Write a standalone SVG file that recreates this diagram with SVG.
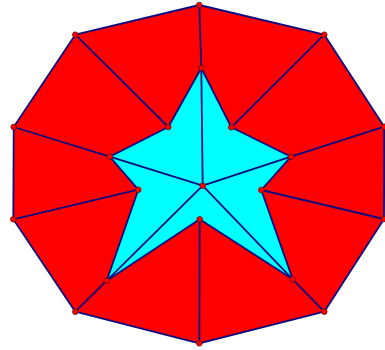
<svg xmlns="http://www.w3.org/2000/svg" width="385" height="350" viewBox="0 0 385 350">
<style>
.edge{stroke:#0c0c80;stroke-width:1.8;fill:none;stroke-linejoin:round}
.pt{fill:#ff0000;stroke:#5a1010;stroke-width:0.8}
</style>
<rect width="385" height="350" fill="#ffffff"/>
<g id="regions">
<polygon points="199.3,5 324.3,34.7 384.3,126.7 384,219 324.3,311.7 199.3,343.3 75.3,311.7 13.3,219.3 13.7,127 75.3,34.7" fill="#ff0000"/>
<polygon points="201.3,68 231.3,127.3 291,156.7 261.3,190 292.7,279.3 199.7,219.3 106.7,280.7 138.3,189.7 109.7,156.7 168.3,127" fill="#00ffff"/>
</g>
<g id="connectors" class="edge">
<polygon points="199.3,5 324.3,34.7 384.3,126.7 384,219 324.3,311.7 199.3,343.3 75.3,311.7 13.3,219.3 13.7,127 75.3,34.7"/>
<polygon points="201.3,68 231.3,127.3 291,156.7 261.3,190 292.7,279.3 199.7,219.3 106.7,280.7 138.3,189.7 109.7,156.7 168.3,127"/>
<line x1="199.3" y1="5" x2="201.3" y2="68"/>
<line x1="324.3" y1="34.7" x2="231.3" y2="127.3"/>
<line x1="384.3" y1="126.7" x2="291" y2="156.7"/>
<line x1="384" y1="219" x2="261.3" y2="190"/>
<line x1="324.3" y1="311.7" x2="292.7" y2="279.3"/>
<line x1="199.3" y1="343.3" x2="199.7" y2="219.3"/>
<line x1="75.3" y1="311.7" x2="106.7" y2="280.7"/>
<line x1="13.3" y1="219.3" x2="138.3" y2="189.7"/>
<line x1="13.7" y1="127" x2="109.7" y2="156.7"/>
<line x1="75.3" y1="34.7" x2="168.3" y2="127"/>
<line x1="202.7" y1="185.7" x2="201.3" y2="68"/>
<line x1="202.7" y1="185.7" x2="291" y2="156.7"/>
<line x1="202.7" y1="185.7" x2="292.7" y2="279.3"/>
<line x1="202.7" y1="185.7" x2="106.7" y2="280.7"/>
<line x1="202.7" y1="185.7" x2="109.7" y2="156.7"/>
</g>
<g id="A"><circle class="pt" cx="199.3" cy="5" r="2.8"/></g>
<g id="B"><circle class="pt" cx="324.3" cy="34.7" r="2.8"/></g>
<g id="C"><circle class="pt" cx="384.3" cy="126.7" r="2.8"/></g>
<g id="D"><circle class="pt" cx="384" cy="219" r="2.8"/></g>
<g id="E"><circle class="pt" cx="324.3" cy="311.7" r="2.8"/></g>
<g id="F"><circle class="pt" cx="199.3" cy="343.3" r="2.8"/></g>
<g id="G"><circle class="pt" cx="75.3" cy="311.7" r="2.8"/></g>
<g id="H"><circle class="pt" cx="13.3" cy="219.3" r="2.8"/></g>
<g id="I"><circle class="pt" cx="13.7" cy="127" r="2.8"/></g>
<g id="J"><circle class="pt" cx="75.3" cy="34.7" r="2.8"/></g>
<g id="S1"><circle class="pt" cx="201.3" cy="68" r="2.8"/></g>
<g id="S2"><circle class="pt" cx="231.3" cy="127.3" r="2.8"/></g>
<g id="S3"><circle class="pt" cx="291" cy="156.7" r="2.8"/></g>
<g id="S4"><circle class="pt" cx="261.3" cy="190" r="2.8"/></g>
<g id="S5"><circle class="pt" cx="292.7" cy="279.3" r="2.8"/></g>
<g id="S6"><circle class="pt" cx="199.7" cy="219.3" r="2.8"/></g>
<g id="S7"><circle class="pt" cx="106.7" cy="280.7" r="2.8"/></g>
<g id="S8"><circle class="pt" cx="138.3" cy="189.7" r="2.8"/></g>
<g id="S9"><circle class="pt" cx="109.7" cy="156.7" r="2.8"/></g>
<g id="S10"><circle class="pt" cx="168.3" cy="127" r="2.8"/></g>
<g id="O"><circle class="pt" cx="202.7" cy="185.7" r="2.8"/></g>
</svg>
